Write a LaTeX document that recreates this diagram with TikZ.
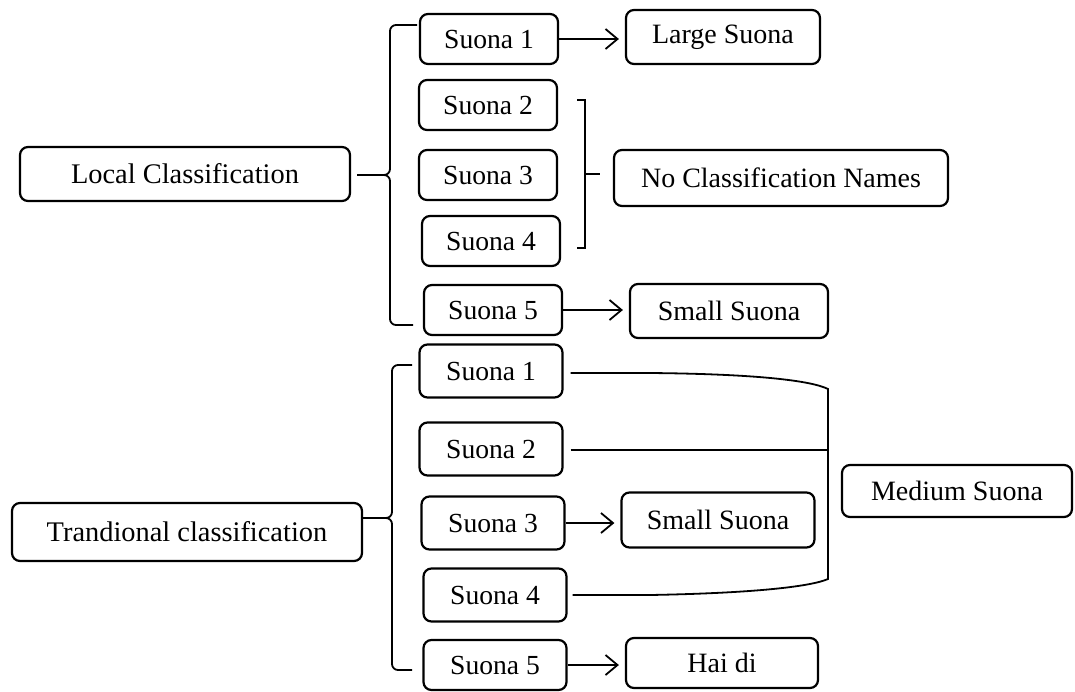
\documentclass[tikz,border=0pt]{standalone}
\usepackage{fontspec}
\setmainfont{Liberation Serif}
\usetikzlibrary{arrows.meta,calc}
\begin{document}
\begin{tikzpicture}[x=0.5pt,y=-0.5pt,cls/.style={rectangle, draw, rounded corners=4pt, line width=1.1pt, minimum height=27pt, font=\fontsize{14.2}{16}\selectfont},suona/.style={rectangle, draw, rounded corners=4pt, line width=1.1pt, minimum width=69pt, minimum height=25pt, font=\fontsize{13.8}{16}\selectfont},suona_b/.style={suona, minimum width=71.5pt, minimum height=26.5pt},kind/.style={rectangle, draw, rounded corners=4pt, line width=1.1pt, minimum height=27pt, font=\fontsize{14}{16}\selectfont},arr/.style={-{Straight Barb[length=6pt,width=10pt]}, line width=0.9pt, shorten >=3pt},link/.style={line width=0.9pt},]
            \useasboundingbox (0,0) rectangle (1075,691);
            % local classification
            \node[cls, minimum width=165pt] (local) at (185,174) {Local Classification};
            \node[suona] (l1) at (489,39) {Suona 1};
            \node[suona] (l2) at (488,105) {Suona 2};
            \node[suona] (l3) at (488,175) {Suona 3};
            \node[suona] (l4) at (491,241) {Suona 4};
            \node[suona] (l5) at (493,310) {Suona 5};
            \node[kind, minimum width=97pt] (large) at (723,37) {Large Suona};
            \node[kind, minimum width=167pt, minimum height=28pt] (noname) at (781,178) {No Classification Names};
            \node[kind, minimum width=99pt] (lsmall) at (729,311) {Small Suona};
            % traditional classification
            \node[cls, minimum width=175pt, minimum height=29pt] (trad) at (187,532) {Trandional classification};
            \node[suona_b] (t1) at (491,371) {Suona 1};
            \node[suona_b] (t2) at (491,449) {Suona 2};
            \node[suona_b] (t3) at (493,523) {Suona 3};
            \node[suona_b] (t4) at (495,595) {Suona 4};
            \node[suona_b, minimum height=25pt] (t5) at (495,665) {Suona 5};
            \node[kind, minimum width=96.5pt, minimum height=27.5pt] (tsmall) at (718,520) {Small Suona};
            \node[kind, minimum width=96pt, minimum height=25pt] (haidi) at (722,663) {Hai di};
            \node[kind, minimum width=115pt, minimum height=26pt] (medium) at (957,491) {Medium Suona};
            % braces
            \coordinate (lbtop) at (417,25);
            \coordinate (lbbot) at (413,325);
            \coordinate (lbtip) at (381,175);
            \draw[link, rounded corners=3pt] (lbtop) -- (390,25) -- (390,175) -- (lbtip);
            \draw[link, rounded corners=3pt] (lbbot) -- (390,325) -- (390,175) -- (lbtip);
            \draw[link] ($(local.east |- lbtip)+(6,0)$) -- (lbtip);
            \coordinate (tbtop) at (412,365);
            \coordinate (tbbot) at (412,670);
            \coordinate (tbtip) at (383,518);
            \draw[link, rounded corners=3pt] (tbtop) -- (392,365) -- (392,518) -- (tbtip);
            \draw[link, rounded corners=3pt] (tbbot) -- (392,670) -- (392,518) -- (tbtip);
            \draw[link] (trad.east |- tbtip) -- (tbtip);
            \coordinate (nbtip) at (600,174);
            \draw[link] (577,100) -- (585,100) -- (585,248) -- (577,248);
            \draw[link] (585,174) -- (nbtip);
            % arrows
            \draw[arr] (l1.east) -- (l1.east -| large.west);
            \draw[arr] (l5.east) -- (l5.east -| lsmall.west);
            \draw[arr] (t3.east) -- (t3.east -| tsmall.west);
            \draw[arr] (t5.east) -- (t5.east -| haidi.west);
            % medium suona
            \draw[link] ($(t1.east)+(7,2)$) -- (650,373) .. controls (760,374) and (812,381) .. (828,389) -- (828,579) .. controls (812,586) and (760,593) .. (650,595) -- ($(t4.east)+(5,0)$);
            \draw[link] ($(t2.east)+(7,1)$) -- (828,450);
        \end{tikzpicture}
\end{document}
